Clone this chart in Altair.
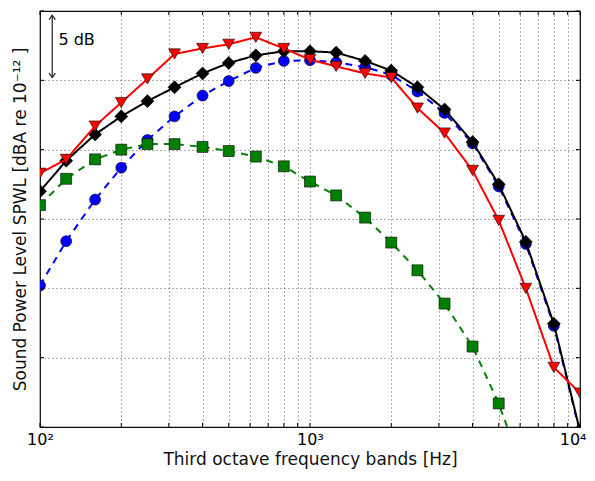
import altair as alt
import pandas as pd

freqs = [100, 125, 160, 200, 250, 315, 400, 500, 630, 800, 1000, 1250, 1600,
         2000, 2500, 3150, 4000, 5000, 6300, 8000, 10000]
red = [18.3, 19.3, 21.7, 23.4, 25.1, 26.9, 27.3, 27.6, 28.1, 27.3, 26.5, 26.0,
       25.5, 25.2, 23.0, 21.2, 18.5, 14.9, 10.0, 4.3, 2.45]
black = [17.0, 19.2, 21.1, 22.4, 23.5, 24.5, 25.5, 26.25, 26.8, 27.1, 27.1, 27.0,
         26.4, 25.7, 24.5, 22.9, 20.55, 17.5, 13.35, 7.45, -0.3]
blue = [10.2, 13.4, 16.4, 18.7, 20.7, 22.4, 23.9, 24.95, 25.9, 26.4, 26.45, 26.3,
        25.95, 25.4, 24.2, 22.65, 20.45, 17.35, 13.2, 7.3, -0.4]
green = [16.0, 17.9, 19.3, 20.0, 20.4, 20.4, 20.2, 19.9, 19.5, 18.8, 17.7, 16.7,
         15.1, 13.3, 11.3, 8.9, 5.8, 1.7, -3.7]

grid_x = [100, 200, 300, 400, 500, 600, 700, 800, 900, 1000, 2000, 3000, 4000,
          5000, 6000, 7000, 8000, 9000, 10000]
grid_y = [0, 5, 10, 15, 20, 25, 30]

arrow_f = 111
arrow_top = 29.7
arrow_bottom = 25.2
label_f = 117
label_y = 27.9

W, H = 540, 416

xscale = alt.Scale(type="log", domain=[100, 10000], nice=False)
yscale = alt.Scale(domain=[0, 30], nice=False, zero=False)

xaxis = alt.Axis(values=grid_x, grid=True, gridDash=[1, 3], gridColor="#333",
                 gridOpacity=0.8, ticks=False, domain=False, labelOverlap=False,
                 labelFlush=False, labelFontSize=16, labelPadding=4,
                 labelAlign=alt.condition("datum.value == 10000", alt.value("right"), alt.value("center")),
                 labelOffset=alt.condition("datum.value == 10000", alt.value(6), alt.value(0)),
                 labelColor="#000", labelFont="DejaVu Sans",
                 labelExpr="datum.value == 100 ? '10²' : datum.value == 1000 ? '10³' : datum.value == 10000 ? '10⁴' : ''",
                 title="Third octave frequency bands [Hz]", titleFontSize=17,
                 titleFontWeight="normal", titleFont="DejaVu Sans",
                 titleColor="#111", titlePadding=4)
yaxis = alt.Axis(values=grid_y, grid=True, gridDash=[1, 3], gridColor="#333",
                 gridOpacity=0.8, ticks=False, domain=False, labels=False,
                 title="Sound Power Level SPWL [dBA re 10⁻¹² ]", titleFontSize=17,
                 titleFontWeight="normal", titleFont="DejaVu Sans",
                 titleColor="#111", titlePadding=11)


def series(vals, color, shape, size, dash):
    df = pd.DataFrame({"f": freqs[:len(vals)], "v": vals})
    base = alt.Chart(df)
    line = base.mark_line(color=color, strokeWidth=2, strokeDash=dash, clip=True).encode(
        x=alt.X("f:Q", scale=xscale, axis=xaxis),
        y=alt.Y("v:Q", scale=yscale, axis=yaxis))
    pts = base.mark_point(shape=shape, size=size, filled=True, fill=color, stroke="#000",
                          strokeWidth=0.6, opacity=1, clip=True).encode(
        x=alt.X("f:Q", scale=xscale), y=alt.Y("v:Q", scale=yscale))
    return line + pts


blue_l = series(blue, "#0000ff", "circle", 120, [7, 6])
green_l = series(green, "#008000", "square", 120, [7, 6])
black_l = series(black, "#000000", "diamond", 170, [1, 0])
red_l = series(red, "#ff0000", "triangle-down", 140, [1, 0])

# ticks (inward) along frame
gx = pd.DataFrame({"f": grid_x})
gy = pd.DataFrame({"v": grid_y})
tick_b = alt.Chart(gx).mark_rule(color="#000", strokeWidth=1).encode(
    x=alt.X("f:Q", scale=xscale), y=alt.value(H), y2=alt.value(H - 4))
tick_t = alt.Chart(gx).mark_rule(color="#000", strokeWidth=1).encode(
    x=alt.X("f:Q", scale=xscale), y=alt.value(0), y2=alt.value(4))
tick_l = alt.Chart(gy).mark_rule(color="#000", strokeWidth=1).encode(
    y=alt.Y("v:Q", scale=yscale), x=alt.value(0), x2=alt.value(4))
tick_r = alt.Chart(gy).mark_rule(color="#000", strokeWidth=1).encode(
    y=alt.Y("v:Q", scale=yscale), x=alt.value(W), x2=alt.value(W - 4))

arr = pd.DataFrame({"f": [arrow_f], "a": [arrow_top], "b": [arrow_bottom]})
arrow_line = alt.Chart(arr).mark_rule(color="#222", strokeWidth=1.2).encode(
    x=alt.X("f:Q", scale=xscale), y=alt.Y("a:Q", scale=yscale), y2="b:Q")
head_top = alt.Chart(arr).mark_point(shape="M -1 1.4 L 0 0 L 1 1.4", size=40, filled=False,
                                     stroke="#222", strokeWidth=1.2, opacity=1).encode(
    x=alt.X("f:Q", scale=xscale), y=alt.Y("a:Q", scale=yscale))
head_bot = alt.Chart(arr).mark_point(shape="M -1 -1.4 L 0 0 L 1 -1.4", size=40, filled=False,
                                     stroke="#222", strokeWidth=1.2, opacity=1).encode(
    x=alt.X("f:Q", scale=xscale), y=alt.Y("b:Q", scale=yscale))
lab = pd.DataFrame({"f": [label_f], "v": [label_y], "t": ["5 dB"]})
label = alt.Chart(lab).mark_text(align="left", baseline="middle", fontSize=16,
                                 font="DejaVu Sans", color="#000").encode(
    x=alt.X("f:Q", scale=xscale), y=alt.Y("v:Q", scale=yscale), text="t:N")

chart = alt.layer(
    blue_l, green_l, black_l, red_l,
    tick_b, tick_t, tick_l, tick_r,
    arrow_line, head_top, head_bot, label,
).properties(
    width=W, height=H,
    autosize=alt.AutoSizeParams(type="none"),
    padding={"left": 32, "top": 3, "right": 7, "bottom": 44},
    background="#ffffff",
).configure_view(stroke="#000", strokeWidth=1.2)

chart.save("out.html", embed_options={"renderer": "svg", "actions": False})
